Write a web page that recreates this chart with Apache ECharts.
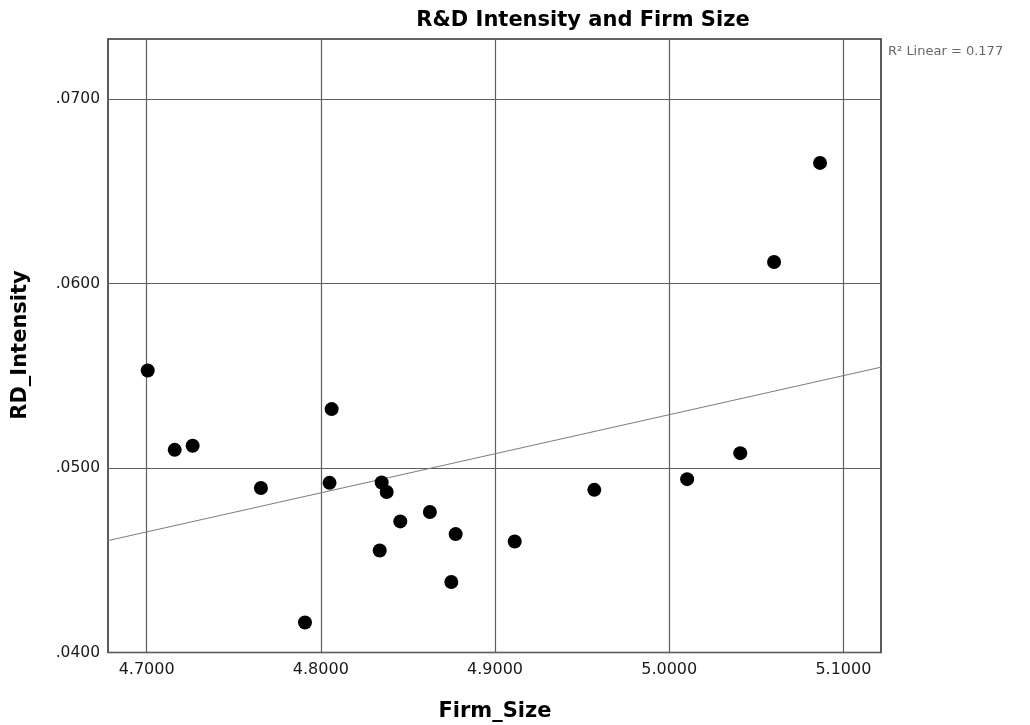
<!DOCTYPE html>
<html>
<head>
<meta charset="utf-8">
<script src="https://cdn.jsdelivr.net/npm/echarts@6/dist/echarts.min.js"></script>
<style>
  html, body { margin: 0; padding: 0; background: #ffffff; }
  #chart { width: 1030px; height: 725px; }
</style>
</head>
<body>
<div id="chart"></div>
<script>
// Firm size (x) and R&D intensity (y) for each firm
const firmSize = [
  4.7006, 4.7161, 4.7264, 4.7656, 4.8062, 4.8050, 4.8349, 4.8378, 4.8456, 4.8626,
  4.8774, 4.8338, 4.8749, 4.9113, 4.7909, 4.9570, 5.0103, 5.0408, 5.0602, 5.0866
];
const rdIntensity = [
  0.05529, 0.05099, 0.05121, 0.04892, 0.05320, 0.04920, 0.04922, 0.04870, 0.04711, 0.04762,
  0.04642, 0.04553, 0.04382, 0.04602, 0.04163, 0.04882, 0.04940, 0.05081, 0.06118, 0.06655
];

// Axis ranges and tick values
const xRange = [4.6778, 5.1216];
const yRange = [0.0400, 0.07327];
const xTicks = [4.7, 4.8, 4.9, 5.0, 5.1];
const yTicks = [0.04, 0.05, 0.06, 0.07];

const titleText = 'R&D Intensity and Firm Size';
const xTitle = 'Firm_Size';
const yTitle = 'RD_Intensity';
const fitLabel = 'R\u00B2 Linear = 0.177';

// Ordinary least squares fit of intensity on size
function linearFit(xs, ys) {
  const n = xs.length;
  const mx = xs.reduce((s, v) => s + v, 0) / n;
  const my = ys.reduce((s, v) => s + v, 0) / n;
  let sxy = 0, sxx = 0;
  for (let i = 0; i < n; i++) {
    sxy += (xs[i] - mx) * (ys[i] - my);
    sxx += (xs[i] - mx) * (xs[i] - mx);
  }
  const slope = sxy / sxx;
  return { slope, intercept: my - slope * mx };
}
const fit = linearFit(firmSize, rdIntensity);
const fitLine = xRange.map(x => [x, fit.intercept + fit.slope * x]);

const points = firmSize.map((x, i) => [x, rdIntensity[i]]);

const FONT = 'DejaVu Sans';
const chart = echarts.init(document.getElementById('chart'), null, { renderer: 'canvas' });

chart.setOption({
  animation: false,
  backgroundColor: '#ffffff',
  grid: {
    left: 108, top: 39, width: 773, bottom: 72.5,
    show: true, borderColor: '#333333', borderWidth: 1.6, backgroundColor: 'transparent'
  },
  xAxis: {
    type: 'value',
    min: xRange[0], max: xRange[1],
    axisLine: { show: false },
    axisTick: { show: false, customValues: xTicks },
    splitLine: { show: true, lineStyle: { color: '#5e5e5e', width: 1.2 } },
    axisLabel: {
      customValues: xTicks,
      margin: 9,
      color: '#1a1a1a',
      fontFamily: FONT,
      fontSize: 16,
      formatter: v => v.toFixed(4)
    }
  },
  yAxis: {
    type: 'value',
    min: yRange[0], max: yRange[1],
    axisLine: { show: false },
    axisTick: { show: false, customValues: yTicks },
    splitLine: { show: true, lineStyle: { color: '#5e5e5e', width: 1.2 } },
    axisLabel: {
      customValues: yTicks,
      margin: 8,
      padding: [4, 0, 0, 0],
      color: '#1a1a1a',
      fontFamily: FONT,
      fontSize: 15.5,
      formatter: v => v.toFixed(4).replace(/^0/, '')
    }
  },
  series: [
    {
      type: 'line',
      data: fitLine,
      symbol: 'none',
      silent: true,
      lineStyle: { color: '#7c7c7c', width: 1 },
      z: 2
    },
    {
      type: 'scatter',
      data: points,
      symbol: 'circle',
      symbolSize: 14,
      itemStyle: { color: '#000000', opacity: 1 },
      z: 3
    }
  ],
  graphic: [
    {
      type: 'text', x: 583, y: 21,
      style: {
        text: titleText, fontFamily: FONT, fontWeight: 'bold', fontSize: 21,
        fill: '#000000', align: 'center', verticalAlign: 'middle'
      }
    },
    {
      type: 'text', x: 888, y: 52,
      style: {
        text: fitLabel, fontFamily: FONT, fontSize: 13,
        fill: '#666666', align: 'left', verticalAlign: 'middle'
      }
    },
    {
      type: 'text', x: 495, y: 712,
      style: {
        text: xTitle, fontFamily: FONT, fontWeight: 'bold', fontSize: 21,
        fill: '#000000', align: 'center', verticalAlign: 'middle'
      }
    },
    {
      type: 'text', x: 21, y: 345, rotation: Math.PI / 2,
      style: {
        text: yTitle, fontFamily: FONT, fontWeight: 'bold', fontSize: 21,
        fill: '#000000', align: 'center', verticalAlign: 'middle'
      }
    }
  ]
});
</script>
</body>
</html>
